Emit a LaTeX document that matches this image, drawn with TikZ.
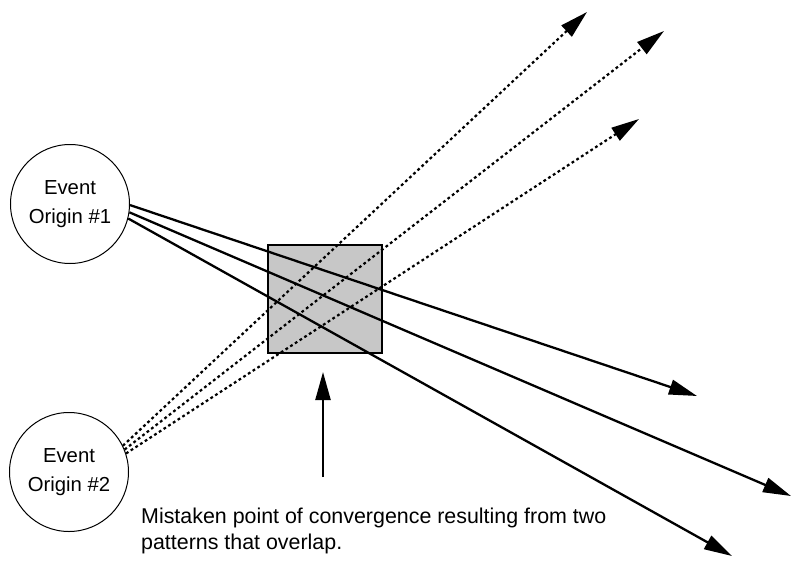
\documentclass[tikz,border=0pt]{standalone}
\usepackage{fontspec}
\setmainfont{Liberation Sans}
\usetikzlibrary{arrows.meta}
\begin{document}
\begin{tikzpicture}[x=1pt,y=-1pt,
  origin/.style={circle, draw, line width=1pt, minimum size=119pt, inner sep=0pt, align=center, font=\fontsize{20.3}{29}\selectfont},
  overlapbox/.style={rectangle, draw, line width=2.7pt, fill=black!22, minimum width=114pt, minimum height=108pt, inner sep=0pt},
  solidray/.style={line width=2.3pt, -{Triangle[length=28pt,width=15pt]}},
  dotray/.style={line width=2.2pt, dash pattern=on 2.8pt off 2.8pt, -{Triangle[length=28pt,width=15pt]}},
  pointer/.style={line width=2.3pt, -{Triangle[length=28pt,width=15pt]}}
]
\fill[white] (0,0) rectangle (792,581);
\useasboundingbox (0,0) rectangle (792,581);

\node[origin] (o1) at (70,204) {Event\\Origin \#1};
\node[origin] (o2) at (69,472) {Event\\Origin \#2};
\node[overlapbox] (box) at (325,299) {};

\coordinate (s1) at (697,396);
\coordinate (s2) at (791,496);
\coordinate (s3) at (732,556);
\coordinate (d1) at (587,12);
\coordinate (d2) at (664,31);
\coordinate (d3) at (639,119);
\coordinate (ptail) at (323,477);
\coordinate (phead) at (323,372);

\draw[solidray] (o1.-1) -- (s1);
\draw[solidray] (o1.-8) -- (s2);
\draw[solidray] (o1.-14) -- (s3);

\draw[dotray] (o2.26) -- (d1);
\draw[dotray] (o2.22) -- (d2);
\draw[dotray] (o2.18) -- (d3);

\draw[pointer] (ptail) -- (phead);

\node[anchor=base west, inner sep=0pt, align=left, font=\fontsize{21.4}{25.5}\selectfont] (note) at (141,549)
  {Mistaken point of convergence resulting from two\\patterns that overlap.};
\end{tikzpicture}
\end{document}
